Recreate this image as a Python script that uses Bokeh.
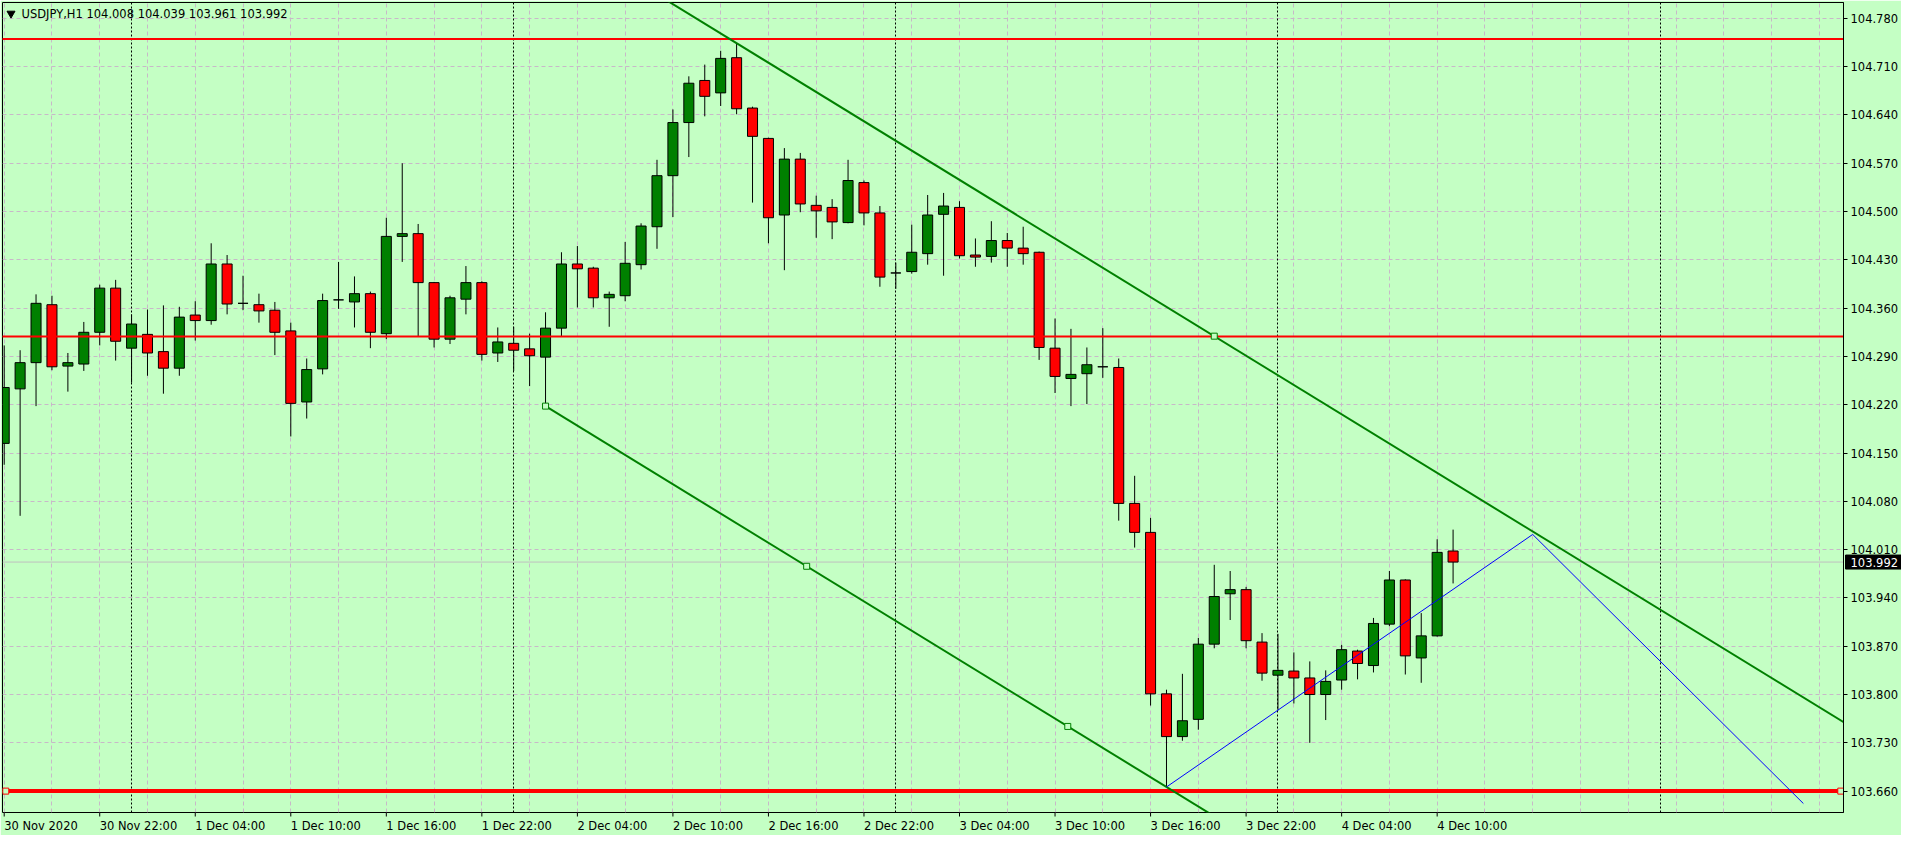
import numpy as np
import pandas as pd
from bokeh.plotting import figure
from bokeh.models import Range1d, FixedTicker, Grid, Span, Label, PrintfTickFormatter, ColumnDataSource
from bokeh.core.properties import value
from bokeh.embed import file_html
from bokeh.resources import INLINE

# ---------------- data ----------------
start_time = "2020-11-30 16:00"

opens = [104.164, 104.243, 104.281, 104.365, 104.276, 104.279, 104.325, 104.389, 104.302, 104.322,
         104.297, 104.273, 104.350, 104.342, 104.424, 104.367, 104.365, 104.357, 104.327, 104.224,
         104.272, 104.372, 104.369, 104.381, 104.323, 104.464, 104.468, 104.397, 104.315, 104.373,
         104.397, 104.295, 104.309, 104.301, 104.289, 104.331, 104.424, 104.418, 104.375, 104.378,
         104.423, 104.478, 104.552, 104.629, 104.690, 104.672, 104.723, 104.650, 104.606, 104.495,
         104.576, 104.509, 104.506, 104.484, 104.542, 104.498, 104.411, 104.413, 104.439, 104.496,
         104.506, 104.437, 104.435, 104.458, 104.447, 104.441, 104.302, 104.258, 104.265, 104.275,
         104.274, 104.077, 104.035, 103.801, 103.739, 103.764, 103.873, 103.946, 103.952, 103.876,
         103.828, 103.834, 103.824, 103.800, 103.821, 103.863, 103.842, 103.902, 103.966, 103.853,
         103.885, 104.008]
highs = [104.306, 104.299, 104.380, 104.378, 104.295, 104.340, 104.394, 104.401, 104.351, 104.358,
         104.364, 104.362, 104.370, 104.454, 104.437, 104.407, 104.381, 104.369, 104.339, 104.287,
         104.381, 104.427, 104.406, 104.384, 104.491, 104.570, 104.482, 104.398, 104.378, 104.421,
         104.399, 104.332, 104.333, 104.323, 104.354, 104.441, 104.450, 104.420, 104.384, 104.456,
         104.483, 104.575, 104.648, 104.696, 104.713, 104.733, 104.744, 104.652, 104.607, 104.592,
         104.585, 104.523, 104.518, 104.575, 104.545, 104.508, 104.426, 104.481, 104.524, 104.527,
         104.515, 104.461, 104.486, 104.469, 104.478, 104.442, 104.345, 104.330, 104.303, 104.331,
         104.287, 104.117, 104.056, 103.807, 103.830, 103.882, 103.988, 103.979, 103.956, 103.889,
         103.888, 103.861, 103.848, 103.835, 103.872, 103.865, 103.911, 103.979, 103.967, 103.918,
         104.025, 104.039]
lows = [104.133, 104.059, 104.218, 104.270, 104.239, 104.269, 104.306, 104.284, 104.252, 104.262,
        104.236, 104.262, 104.313, 104.336, 104.351, 104.357, 104.339, 104.292, 104.174, 104.200,
        104.264, 104.359, 104.332, 104.302, 104.315, 104.427, 104.319, 104.303, 104.308, 104.351,
        104.284, 104.282, 104.269, 104.247, 104.218, 104.319, 104.361, 104.361, 104.333, 104.370,
        104.416, 104.446, 104.492, 104.579, 104.638, 104.653, 104.641, 104.513, 104.454, 104.415,
        104.499, 104.462, 104.460, 104.483, 104.480, 104.391, 104.388, 104.410, 104.423, 104.407,
        104.432, 104.420, 104.426, 104.420, 104.423, 104.285, 104.237, 104.218, 104.221, 104.259,
        104.052, 104.013, 103.784, 103.666, 103.733, 103.749, 103.867, 103.908, 103.867, 103.820,
        103.777, 103.787, 103.730, 103.763, 103.807, 103.822, 103.832, 103.899, 103.829, 103.817,
        103.884, 103.961]
closes = [104.245, 104.281, 104.367, 104.275, 104.281, 104.325, 104.389, 104.312, 104.337, 104.295,
          104.273, 104.347, 104.342, 104.424, 104.366, 104.367, 104.356, 104.325, 104.222, 104.271,
          104.371, 104.372, 104.381, 104.325, 104.464, 104.468, 104.397, 104.315, 104.375, 104.397,
          104.293, 104.311, 104.299, 104.291, 104.331, 104.424, 104.417, 104.375, 104.380, 104.425,
          104.479, 104.552, 104.629, 104.686, 104.667, 104.722, 104.649, 104.609, 104.491, 104.576,
          104.511, 104.501, 104.485, 104.545, 104.498, 104.405, 104.411, 104.441, 104.495, 104.508,
          104.436, 104.434, 104.458, 104.447, 104.439, 104.303, 104.261, 104.264, 104.278, 104.275,
          104.077, 104.035, 103.801, 103.739, 103.762, 103.873, 103.942, 103.952, 103.878, 103.831,
          103.835, 103.824, 103.800, 103.819, 103.865, 103.845, 103.903, 103.966, 103.856, 103.885,
          104.006, 103.992]

x_tick_labels = ["30 Nov 2020", "30 Nov 22:00", "1 Dec 04:00", "1 Dec 10:00", "1 Dec 16:00",
                 "1 Dec 22:00", "2 Dec 04:00", "2 Dec 10:00", "2 Dec 16:00", "2 Dec 22:00",
                 "3 Dec 04:00", "3 Dec 10:00", "3 Dec 16:00", "3 Dec 22:00", "4 Dec 04:00",
                 "4 Dec 10:00"]
y_ticks = [104.780, 104.710, 104.640, 104.570, 104.500, 104.430, 104.360, 104.290, 104.220,
           104.150, 104.080, 104.010, 103.940, 103.870, 103.800, 103.730, 103.660]

resistance_levels = [104.750, 104.319]
support_level = 103.660
support_anchor_bars = [0.1, 115.35]
last_price = 103.992

# equidistant channel: two anchors on the lower line, one on the upper line
channel_lower_bars = [34, 73]
channel_lower_prices = [104.218, 103.666]
channel_upper_bar = 46
channel_upper_price = 104.744
channel_marker_bars_lower = [34, 50.4, 66.8]
channel_marker_bars_upper = [76]

zigzag_bars = [73, 96, 113]
zigzag_prices = [103.666, 104.032, 103.642]

title_text = "USDJPY,H1  104.008 104.039 103.961 103.992"

# ---------------- styling / layout ----------------
BG = "#C4FFC4"
BULL = "#008000"
BEAR = "#FF0000"
GRID = "#C8B8C8"
FONT = "DejaVu Sans"
FS = "11.5px"
FS_NUM = 11.5

BORDER_L, BORDER_T = 2, 2
FRAME_W, FRAME_H = 1841, 810
x_start, x_end = -0.106, 115.52
y_start, y_end = 103.629, 104.803
px_x = FRAME_W / (x_end - x_start)
px_y = FRAME_H / (y_end - y_start)

n = len(opens)
bars = np.arange(n)
times = pd.date_range(start_time, periods=int(np.ceil(x_end)) + 1, freq="h")

o = np.array(opens); h = np.array(highs); l = np.array(lows); c = np.array(closes)
bull = c >= o
src = ColumnDataSource(dict(
    x=bars, high=h, low=l,
    top=np.maximum(o, c), bottom=np.minimum(o, c),
    color=[BULL if b else BEAR for b in bull],
))

p = figure(frame_width=FRAME_W, frame_height=FRAME_H,
           x_range=Range1d(x_start, x_end), y_range=Range1d(y_start, y_end),
           y_axis_location="right", output_backend="svg", toolbar_location=None,
           min_border_left=BORDER_L, min_border_top=BORDER_T, min_border_right=0,
           min_border_bottom=0,
           background_fill_color=BG, border_fill_color=BG)
p.outline_line_color = "black"
p.outline_line_width = 1

# y axis
p.yaxis.ticker = FixedTicker(ticks=y_ticks)
p.yaxis.formatter = PrintfTickFormatter(format="%.3f")
p.yaxis.major_tick_out = 4
p.yaxis.major_tick_in = 0
p.yaxis.minor_tick_line_color = None
p.yaxis.axis_line_color = "black"
p.yaxis.major_tick_line_color = "black"
p.yaxis.major_label_standoff = 3
p.yaxis.major_label_text_font = FONT
p.yaxis.major_label_text_font_size = FS
p.yaxis.major_label_text_color = "black"

# x axis: labels start at their bar (left aligned)
CW = {"0": 7.0, "1": 7.0, "2": 7.0, "3": 7.0, "4": 7.0, "5": 7.0, "6": 7.0, "7": 7.0, "8": 7.0,
      "9": 7.0, " ": 3.5, ":": 3.7, "N": 8.2, "o": 6.7, "v": 6.5, "D": 8.5, "e": 6.8, "c": 6.0}
def text_w(s):
    return sum(CW.get(ch, 6.5) for ch in s) * FS_NUM / 11.0

label_bars = bars[::6][:len(x_tick_labels)]
label_pos = [float(b + text_w(s) / 2.0 / px_x) for b, s in zip(label_bars, x_tick_labels)]
p.xaxis.ticker = FixedTicker(ticks=label_pos)
p.xaxis.major_label_overrides = {pos: s for pos, s in zip(label_pos, x_tick_labels)}
p.xaxis.major_tick_line_color = None
p.xaxis.major_tick_out = 0
p.xaxis.major_tick_in = 0
p.xaxis.minor_tick_line_color = None
p.xaxis.axis_line_color = None
p.xaxis.major_label_standoff = 6
p.xaxis.major_label_text_font = FONT
p.xaxis.major_label_text_font_size = FS
p.xaxis.major_label_text_color = "black"

# small tick marks under the frame at each time label (drawn unclipped)
tick_len = 4 / px_y
p.segment(x0=label_bars, y0=[y_start] * len(label_bars), x1=label_bars,
          y1=[y_start - tick_len] * len(label_bars), line_color="black", line_width=1,
          level="overlay")

# grids
p.xgrid.ticker = FixedTicker(ticks=list(range(0, int(x_end) + 1, 3)))
p.ygrid.ticker = FixedTicker(ticks=y_ticks)
for g in (p.xgrid[0], p.ygrid[0]):
    g.grid_line_color = GRID
    g.grid_line_dash = "4 3"
    g.grid_line_width = 1
day_seps = [i for i, t in enumerate(times) if t.hour == 0]
p.add_layout(Grid(dimension=0, ticker=FixedTicker(ticks=day_seps), grid_line_color="black",
                  grid_line_dash="2 2", grid_line_width=1))

# current price line
p.add_layout(Span(location=last_price, dimension="width", line_color="#C0C0C0",
                  line_width=1, level="underlay"))

# candles
p.segment(x0="x", y0="high", x1="x", y1="low", source=src, line_color="black", line_width=1)
p.vbar(x="x", width=0.63, top="top", bottom="bottom", source=src,
       fill_color="color", line_color="black", line_width=1)

# horizontal levels
for lv in resistance_levels:
    p.segment(x0=[x_start - 1], y0=[lv], x1=[x_end + 1], y1=[lv], line_color="red", line_width=2)
p.segment(x0=[x_start - 1], y0=[support_level], x1=[x_end + 1], y1=[support_level],
          line_color="red", line_width=4)
p.scatter(x=support_anchor_bars, y=[support_level] * 2, marker="square", size=6,
          line_color="red", fill_color=BG, line_width=1)

# channel
slope = (channel_lower_prices[1] - channel_lower_prices[0]) / (channel_lower_bars[1] - channel_lower_bars[0])
def lower(xv):
    return channel_lower_prices[0] + slope * (np.asarray(xv, dtype=float) - channel_lower_bars[0])
def upper(xv):
    return channel_upper_price + slope * (np.asarray(xv, dtype=float) - channel_upper_bar)
lx = [channel_lower_bars[0], x_end + 5]
p.line(lx, lower(lx), line_color=BULL, line_width=2)
ux = [x_start - 5, x_end + 5]
p.line(ux, upper(ux), line_color=BULL, line_width=2)
p.scatter(channel_marker_bars_lower, lower(channel_marker_bars_lower), marker="square", size=6,
          line_color=BULL, fill_color=BG, line_width=1)
p.scatter(channel_marker_bars_upper, upper(channel_marker_bars_upper), marker="square", size=6,
          line_color=BULL, fill_color=BG, line_width=1)

# zigzag
p.line(zigzag_bars, zigzag_prices, line_color="#0000FF", line_width=1)

# title inside chart
ty = y_end - 11 / px_y
p.scatter([x_start + 8.5 / px_x], [ty], marker="inverted_triangle", size=8,
          fill_color="black", line_color="black")
p.add_layout(Label(x=x_start + 19 / px_x, y=ty, text=title_text, text_font=FONT,
                   text_font_size=FS, text_color="black", text_baseline="middle",
                   text_align="left"))

# last price box on the price axis (overlay level -> not clipped to the frame)
box_left = x_end + 2 / px_x
box_w = 57
p.rect(x=[box_left + box_w / 2 / px_x], y=[last_price], width=box_w, height=14,
       width_units="screen", height_units="screen", fill_color="black", line_color="black",
       level="overlay")
p.text(x=[x_end + 7 / px_x], y=[last_price], text=["{:.3f}".format(last_price)],
       text_font=value(FONT), text_font_size=value(FS), text_color="white",
       text_baseline="middle", text_align="left", level="overlay")

open("out.html", "w").write(file_html(p, INLINE))
